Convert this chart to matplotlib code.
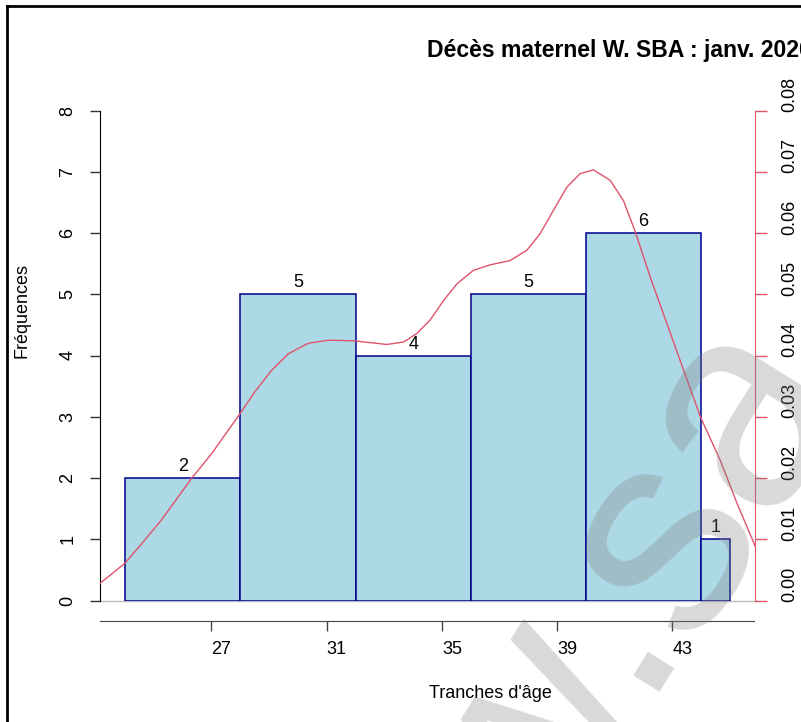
import numpy as np
import matplotlib
matplotlib.use('Agg')
import matplotlib.pyplot as plt
from matplotlib.lines import Line2D
from matplotlib.transforms import ScaledTranslation

plt.rcParams['font.family'] = ['Liberation Sans', 'DejaVu Sans']

# Données
bornes = [24, 28, 32, 36, 40, 44, 45]
effectifs = [2, 5, 4, 5, 6, 1]
ticks_x = [27, 31, 35, 39, 43]

# courbe de densité (axe de droite)
age_dens = [23.13, 24.0, 24.69, 25.27, 26.32, 27.01, 27.96, 28.51, 29.09, 29.67,
            30.36, 31.06, 31.93, 33.09, 33.67, 34.13, 34.59, 35.06, 35.52, 36.09,
            36.67, 37.37, 37.95, 38.41, 38.87, 39.34, 39.80, 40.26, 40.84, 41.30,
            41.71, 42.23, 42.81, 43.39, 43.97, 44.66, 45.24, 45.88]
val_dens = [0.0028, 0.0061, 0.0099, 0.0132, 0.0200, 0.0240, 0.0303, 0.0341, 0.0376, 0.0403,
            0.0420, 0.0425, 0.0424, 0.0418, 0.0422, 0.0436, 0.0458, 0.0490, 0.0517, 0.0539,
            0.0548, 0.0555, 0.0572, 0.0599, 0.0637, 0.0675, 0.0697, 0.0703, 0.0686, 0.0653,
            0.0602, 0.0528, 0.0452, 0.0376, 0.0300, 0.0229, 0.0159, 0.0088]

W, H = 801, 722
fs = 13
fig = plt.figure(figsize=(W / 100, H / 100), dpi=100)
ax = fig.add_axes([100 / W, (H - 600.5) / H, 654.5 / W, 490 / H])

# histogramme
ax.hist(np.array(bornes[:-1]) + 0.5, bins=bornes, weights=effectifs,
        color='#ADD8E6', edgecolor='#00008B', linewidth=1.1, zorder=2)
for i in range(len(effectifs)):
    ax.annotate(str(effectifs[i]), ((bornes[i] + bornes[i + 1]) / 2, effectifs[i]),
                xytext=(0, 2), textcoords='offset points', ha='center', va='bottom',
                fontsize=fs, zorder=5)
ax.axhline(0, color='#BBBBBB', lw=1, zorder=1, clip_on=False)

ax.set_xlim(23.13, 45.85)
ax.set_ylim(0, 8)
ax.spines['top'].set_visible(False)
ax.spines['right'].set_visible(False)
ax.spines['left'].set_bounds(0, 8)
ax.spines['bottom'].set_position(('outward', 14.5))
ax.spines['bottom'].set_color('#444444')
ax.set_xticks(ticks_x)
ax.set_xticklabels([str(t) for t in ticks_x])
ax.set_yticks(range(0, 9))
ax.tick_params(axis='y', length=7, width=1, color='#333333', pad=10, labelsize=fs,
               labelrotation=90)
ax.tick_params(axis='x', length=7, width=1, color='#444444', pad=8, labelsize=fs)
for lab in ax.get_yticklabels():
    lab.set_va('center')
for lab in ax.get_xticklabels():
    lab.set_transform(lab.get_transform() + ScaledTranslation(10 / 100, 0, fig.dpi_scale_trans))

# axe de droite : densité
ax2 = ax.twinx()
ax2.plot(age_dens, val_dens, color='#DF536B', lw=1, zorder=3)
ax2.set_ylim(0, 0.08)
ax2.set_xlim(23.13, 45.85)
for s in ['top', 'left', 'bottom']:
    ax2.spines[s].set_visible(False)
ax2.spines['right'].set_color('#DF536B')
ax2.set_yticks(np.arange(0, 0.081, 0.01))
ax2.set_yticklabels(['%.2f' % v for v in np.arange(0, 0.081, 0.01)])
ax2.tick_params(axis='y', length=8.5, width=1, color='#DF536B', pad=11, labelsize=fs,
                labelrotation=90)
for lab in ax2.get_yticklabels():
    lab.set_va('center')
    lab.set_transform(lab.get_transform() + ScaledTranslation(0, 16 / 100, fig.dpi_scale_trans))

# titres
fig.text(427 / W, 1 - 51 / H, "Décès maternel W. SBA : janv. 2020", fontsize=16.6,
         fontweight='bold', ha='left', va='center')
fig.text(490 / W, 1 - 693 / H, "Tranches d'âge", fontsize=fs, ha='center', va='center')
fig.text(22 / W, 1 - 310 / H, "Fréquences", fontsize=fs, ha='center', va='center',
         rotation=90)

# cadre
fig.add_artist(Line2D([7 / W, 7 / W], [0, 1 - 6 / H], color='black', lw=2))
fig.add_artist(Line2D([7 / W, 1], [1 - 6 / H, 1 - 6 / H], color='black', lw=2))

# filigrane
fig.text(690 / W, 1 - 645 / H, "www.", fontsize=210, color='gray', alpha=0.3,
         rotation=58, rotation_mode='anchor', ha='right', va='baseline')
fig.text(690 / W, 1 - 645 / H, "sa", fontsize=210, color='gray', alpha=0.3,
         rotation=58, rotation_mode='anchor', ha='left', va='baseline')

fig.savefig('out.png', dpi=100)
